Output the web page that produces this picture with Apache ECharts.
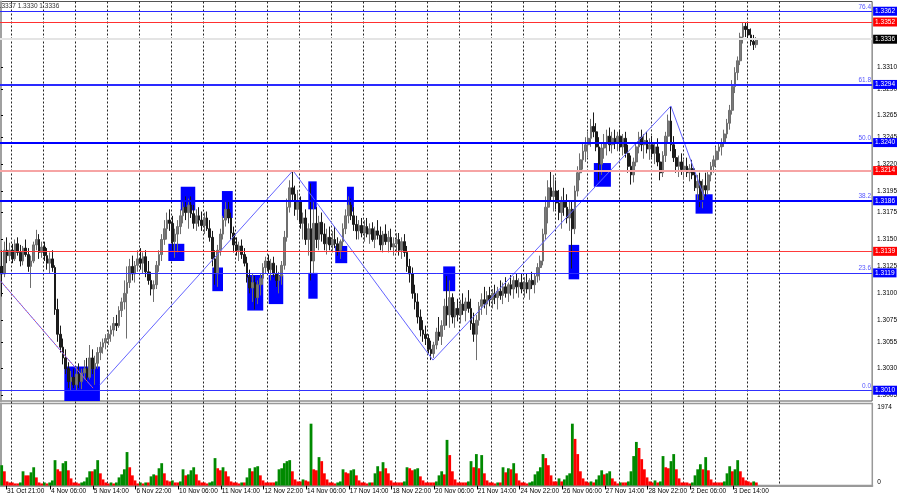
<!DOCTYPE html>
<html><head><meta charset="utf-8">
<script src="https://cdn.jsdelivr.net/npm/echarts@6/dist/echarts.min.js"></script>
<style>html,body{margin:0;padding:0;background:#fff}#c{width:900px;height:500px}</style>
</head><body><div id="c"></div>
<script>
// ---------- DATA (2-hour bars, [open, high, low, close]) ----------
const candles = [
// 31 Oct
[1.3125,1.3140,1.3097,1.3118],[1.3118,1.3148,1.3115,1.3140],[1.3140,1.3152,1.3128,1.3135],[1.3135,1.3147,1.3130,1.3140],
// 3 Nov
[1.3140,1.3146,1.3128,1.3132],[1.3132,1.3150,1.3130,1.3146],[1.3146,1.3152,1.3135,1.3138],[1.3138,1.3145,1.3125,1.3130],
[1.3130,1.3144,1.3126,1.3142],[1.3142,1.3150,1.3134,1.3136],[1.3136,1.3142,1.3120,1.3125],[1.3125,1.3135,1.3105,1.3130],
[1.3130,1.3148,1.3128,1.3145],[1.3145,1.3159,1.3140,1.3150],[1.3150,1.3155,1.3132,1.3138],[1.3138,1.3148,1.3133,1.3143],
// 4 Nov
[1.3143,1.3148,1.3130,1.3135],[1.3135,1.3142,1.3122,1.3128],[1.3128,1.3138,1.3118,1.3132],[1.3132,1.3140,1.3120,1.3124],
[1.3124,1.3126,1.3080,1.3085],[1.3085,1.3095,1.3055,1.3062],[1.3062,1.3070,1.3045,1.3050],[1.3050,1.3058,1.3034,1.3040],
[1.3040,1.3048,1.3025,1.3030],[1.3030,1.3036,1.3012,1.3018],[1.3018,1.3028,1.3010,1.3022],[1.3022,1.3030,1.3012,1.3015],
// 5 Nov
[1.3015,1.3032,1.3010,1.3025],[1.3025,1.3035,1.3012,1.3018],[1.3018,1.3030,1.3011,1.3026],[1.3026,1.3038,1.3020,1.3030],
[1.3030,1.3040,1.3018,1.3022],[1.3022,1.3052,1.3020,1.3040],[1.3040,1.3048,1.3025,1.3030],[1.3030,1.3042,1.3015,1.3035],
[1.3035,1.3050,1.3030,1.3045],[1.3045,1.3055,1.3038,1.3050],[1.3050,1.3058,1.3044,1.3054],[1.3054,1.3062,1.3048,1.3058],
// 6 Nov
[1.3058,1.3066,1.3052,1.3062],[1.3062,1.3070,1.3055,1.3066],[1.3066,1.3078,1.3060,1.3072],[1.3072,1.3080,1.3065,1.3070],
[1.3070,1.3088,1.3068,1.3084],[1.3084,1.3096,1.3078,1.3092],[1.3092,1.3112,1.3085,1.3100],[1.3100,1.3125,1.3058,1.3110],
[1.3110,1.3132,1.3105,1.3125],[1.3125,1.3135,1.3112,1.3118],[1.3118,1.3130,1.3110,1.3126],[1.3126,1.3140,1.3120,1.3132],
// 7 Nov
[1.3132,1.3142,1.3122,1.3128],[1.3128,1.3138,1.3118,1.3134],[1.3134,1.3140,1.3115,1.3120],[1.3120,1.3130,1.3108,1.3112],
[1.3112,1.3120,1.3098,1.3104],[1.3104,1.3112,1.3092,1.3108],[1.3108,1.3130,1.3104,1.3126],[1.3126,1.3140,1.3120,1.3136],
[1.3136,1.3155,1.3130,1.3150],[1.3150,1.3168,1.3145,1.3160],[1.3160,1.3175,1.3150,1.3168],[1.3168,1.3178,1.3158,1.3165],
// 10 Nov
[1.3165,1.3172,1.3140,1.3148],[1.3148,1.3160,1.3133,1.3155],[1.3155,1.3168,1.3138,1.3162],[1.3162,1.3178,1.3155,1.3172],
[1.3172,1.3186,1.3165,1.3180],[1.3180,1.3190,1.3168,1.3175],[1.3175,1.3188,1.3160,1.3182],[1.3182,1.3190,1.3170,1.3174],
[1.3174,1.3182,1.3160,1.3165],[1.3165,1.3178,1.3158,1.3172],[1.3172,1.3180,1.3162,1.3168],[1.3168,1.3176,1.3158,1.3163],
// 11 Nov
[1.3163,1.3175,1.3155,1.3170],[1.3170,1.3176,1.3158,1.3160],[1.3160,1.3168,1.3148,1.3152],[1.3152,1.3158,1.3125,1.3132],
[1.3132,1.3140,1.3108,1.3118],[1.3118,1.3145,1.3106,1.3140],[1.3140,1.3160,1.3135,1.3155],[1.3155,1.3172,1.3150,1.3168],
[1.3168,1.3186,1.3162,1.3178],[1.3178,1.3185,1.3165,1.3170],[1.3170,1.3175,1.3150,1.3156],[1.3156,1.3162,1.3138,1.3145],
// 12 Nov
[1.3145,1.3152,1.3135,1.3140],[1.3140,1.3148,1.3130,1.3144],[1.3144,1.3150,1.3132,1.3136],[1.3136,1.3142,1.3125,1.3128],
[1.3128,1.3134,1.3110,1.3115],[1.3115,1.3122,1.3100,1.3105],[1.3105,1.3118,1.3092,1.3110],[1.3110,1.3116,1.3085,1.3096],
[1.3096,1.3112,1.3090,1.3108],[1.3108,1.3118,1.3098,1.3114],[1.3114,1.3128,1.3108,1.3124],[1.3124,1.3134,1.3118,1.3130],
// 13 Nov
[1.3130,1.3136,1.3118,1.3122],[1.3122,1.3132,1.3112,1.3128],[1.3128,1.3134,1.3115,1.3118],[1.3118,1.3126,1.3106,1.3112],
[1.3112,1.3120,1.3100,1.3116],[1.3116,1.3130,1.3108,1.3126],[1.3126,1.3158,1.3122,1.3152],[1.3152,1.3188,1.3148,1.3180],
[1.3180,1.3205,1.3175,1.3198],[1.3198,1.3214,1.3185,1.3192],[1.3192,1.3200,1.3172,1.3178],[1.3178,1.3196,1.3168,1.3185],
// 14 Nov
[1.3185,1.3190,1.3160,1.3165],[1.3165,1.3175,1.3150,1.3170],[1.3170,1.3178,1.3145,1.3150],[1.3150,1.3165,1.3135,1.3160],
[1.3160,1.3202,1.3112,1.3130],[1.3130,1.3185,1.3118,1.3165],[1.3165,1.3180,1.3142,1.3150],[1.3150,1.3172,1.3140,1.3166],
[1.3166,1.3175,1.3148,1.3155],[1.3155,1.3165,1.3140,1.3146],[1.3146,1.3160,1.3136,1.3152],[1.3152,1.3162,1.3140,1.3145],
// 17 Nov
[1.3145,1.3158,1.3138,1.3150],[1.3150,1.3162,1.3142,1.3146],[1.3146,1.3152,1.3135,1.3140],[1.3140,1.3150,1.3132,1.3148],
[1.3148,1.3165,1.3144,1.3160],[1.3160,1.3178,1.3155,1.3172],[1.3172,1.3190,1.3165,1.3182],[1.3182,1.3188,1.3168,1.3172],
[1.3172,1.3180,1.3158,1.3164],[1.3164,1.3172,1.3150,1.3158],[1.3158,1.3168,1.3150,1.3163],[1.3163,1.3170,1.3152,1.3156],
// 18 Nov
[1.3156,1.3168,1.3148,1.3162],[1.3162,1.3170,1.3152,1.3155],[1.3155,1.3165,1.3146,1.3160],[1.3160,1.3166,1.3148,1.3150],
[1.3150,1.3162,1.3142,1.3158],[1.3158,1.3168,1.3150,1.3154],[1.3154,1.3162,1.3140,1.3145],[1.3145,1.3158,1.3138,1.3155],
[1.3155,1.3164,1.3145,1.3148],[1.3148,1.3158,1.3138,1.3152],[1.3152,1.3160,1.3140,1.3143],[1.3143,1.3152,1.3135,1.3146],
// 19 Nov
[1.3146,1.3156,1.3138,1.3150],[1.3150,1.3156,1.3135,1.3140],[1.3140,1.3152,1.3132,1.3148],[1.3148,1.3155,1.3134,1.3138],
[1.3138,1.3144,1.3120,1.3125],[1.3125,1.3132,1.3110,1.3118],[1.3118,1.3124,1.3095,1.3100],[1.3100,1.3108,1.3085,1.3092],
[1.3092,1.3100,1.3072,1.3078],[1.3078,1.3085,1.3060,1.3066],[1.3066,1.3075,1.3055,1.3062],[1.3062,1.3070,1.3052,1.3058],
// 20 Nov
[1.3058,1.3062,1.3044,1.3048],[1.3048,1.3056,1.3038,1.3044],[1.3044,1.3055,1.3040,1.3052],[1.3052,1.3068,1.3048,1.3064],
[1.3064,1.3078,1.3056,1.3060],[1.3060,1.3075,1.3052,1.3070],[1.3070,1.3095,1.3066,1.3088],[1.3088,1.3116,1.3070,1.3080],
[1.3080,1.3112,1.3068,1.3096],[1.3096,1.3100,1.3072,1.3078],[1.3078,1.3092,1.3068,1.3086],[1.3086,1.3095,1.3074,1.3080],
// 21 Nov
[1.3080,1.3094,1.3072,1.3090],[1.3090,1.3100,1.3080,1.3084],[1.3084,1.3096,1.3074,1.3092],[1.3092,1.3103,1.3082,1.3086],
[1.3086,1.3095,1.3066,1.3072],[1.3072,1.3082,1.3055,1.3062],[1.3062,1.3080,1.3038,1.3075],[1.3075,1.3092,1.3070,1.3088],
[1.3088,1.3100,1.3080,1.3094],[1.3094,1.3106,1.3086,1.3090],[1.3090,1.3102,1.3080,1.3098],[1.3098,1.3106,1.3088,1.3094],
// 24 Nov
[1.3094,1.3104,1.3086,1.3100],[1.3100,1.3108,1.3090,1.3096],[1.3096,1.3106,1.3085,1.3102],[1.3102,1.3112,1.3094,1.3098],
[1.3098,1.3110,1.3090,1.3106],[1.3106,1.3115,1.3096,1.3100],[1.3100,1.3110,1.3092,1.3108],[1.3108,1.3117,1.3098,1.3104],
[1.3104,1.3116,1.3095,1.3112],[1.3112,1.3118,1.3100,1.3106],[1.3106,1.3114,1.3096,1.3110],[1.3110,1.3118,1.3100,1.3104],
// 25 Nov
[1.3104,1.3115,1.3096,1.3110],[1.3110,1.3118,1.3100,1.3104],[1.3104,1.3114,1.3094,1.3112],[1.3112,1.3120,1.3104,1.3108],
[1.3108,1.3118,1.3100,1.3116],[1.3116,1.3128,1.3110,1.3124],[1.3124,1.3135,1.3112,1.3130],[1.3130,1.3160,1.3126,1.3155],
[1.3155,1.3190,1.3150,1.3180],[1.3180,1.3205,1.3165,1.3198],[1.3198,1.3214,1.3185,1.3190],[1.3190,1.3210,1.3176,1.3195],
// 26 Nov
[1.3195,1.3205,1.3178,1.3184],[1.3184,1.3196,1.3168,1.3175],[1.3175,1.3190,1.3160,1.3185],[1.3185,1.3198,1.3172,1.3180],
[1.3180,1.3192,1.3165,1.3170],[1.3170,1.3185,1.3158,1.3178],[1.3178,1.3185,1.3123,1.3160],[1.3160,1.3200,1.3155,1.3195],
[1.3195,1.3218,1.3190,1.3212],[1.3212,1.3230,1.3205,1.3224],[1.3224,1.3240,1.3215,1.3232],[1.3232,1.3245,1.3222,1.3238],
// 27 Nov
[1.3238,1.3250,1.3226,1.3244],[1.3244,1.3262,1.3236,1.3255],[1.3255,1.3268,1.3245,1.3250],[1.3250,1.3258,1.3232,1.3236],
[1.3236,1.3245,1.3205,1.3220],[1.3220,1.3240,1.3210,1.3235],[1.3235,1.3248,1.3225,1.3240],[1.3240,1.3252,1.3228,1.3246],
[1.3246,1.3254,1.3232,1.3238],[1.3238,1.3250,1.3230,1.3244],[1.3244,1.3252,1.3234,1.3240],[1.3240,1.3250,1.3232,1.3246],
// 28 Nov
[1.3246,1.3252,1.3232,1.3236],[1.3236,1.3248,1.3228,1.3244],[1.3244,1.3250,1.3226,1.3230],[1.3230,1.3238,1.3212,1.3218],
[1.3218,1.3228,1.3201,1.3210],[1.3210,1.3226,1.3203,1.3222],[1.3222,1.3240,1.3218,1.3236],[1.3236,1.3250,1.3230,1.3245],
[1.3245,1.3252,1.3232,1.3238],[1.3238,1.3248,1.3225,1.3242],[1.3242,1.3250,1.3230,1.3234],[1.3234,1.3244,1.3224,1.3238],
// 1 Dec
[1.3238,1.3246,1.3226,1.3230],[1.3230,1.3240,1.3220,1.3236],[1.3236,1.3244,1.3218,1.3222],[1.3222,1.3230,1.3205,1.3212],
[1.3212,1.3232,1.3208,1.3228],[1.3228,1.3250,1.3222,1.3246],[1.3246,1.3266,1.3240,1.3260],[1.3260,1.3273,1.3232,1.3238],
[1.3238,1.3246,1.3222,1.3226],[1.3226,1.3234,1.3212,1.3218],[1.3218,1.3228,1.3208,1.3222],[1.3222,1.3230,1.3210,1.3215],
// 2 Dec
[1.3215,1.3224,1.3206,1.3218],[1.3218,1.3226,1.3208,1.3212],[1.3212,1.3220,1.3204,1.3216],[1.3216,1.3224,1.3206,1.3210],
[1.3210,1.3216,1.3195,1.3198],[1.3198,1.3210,1.3186,1.3204],[1.3204,1.3212,1.3180,1.3186],[1.3186,1.3206,1.3179,1.3200],
[1.3200,1.3212,1.3190,1.3196],[1.3196,1.3214,1.3192,1.3210],[1.3210,1.3222,1.3204,1.3218],[1.3218,1.3228,1.3212,1.3224],
// 3 Dec
[1.3224,1.3236,1.3218,1.3232],[1.3232,1.3240,1.3224,1.3236],[1.3236,1.3244,1.3228,1.3240],[1.3240,1.3252,1.3236,1.3248],
[1.3248,1.3262,1.3244,1.3258],[1.3258,1.3275,1.3252,1.3270],[1.3270,1.3298,1.3266,1.3292],[1.3292,1.3310,1.3286,1.3305],
[1.3305,1.3320,1.3298,1.3316],[1.3316,1.3342,1.3312,1.3338],[1.3338,1.3352,1.3332,1.3348],[1.3348,1.3352,1.3338,1.3345],
// 4 Dec
[1.3345,1.3352,1.3336,1.3340],[1.3340,1.3346,1.3330,1.3334],[1.3334,1.3340,1.3326,1.3331],[1.3331,1.3338,1.3328,1.3336]
];

const volume = [
488,342,98,73,
73,49,49,73,342,244,244,317,439,195,73,49,
73,49,73,122,610,390,342,537,586,366,171,73,
73,49,73,98,195,342,342,390,610,293,146,73,
49,73,49,73,195,268,390,805,439,244,122,49,
73,49,73,73,220,268,244,415,537,293,122,98,
122,73,73,98,390,244,268,366,439,268,122,73,
73,49,73,98,659,415,366,439,342,220,98,73,
73,49,73,73,195,415,342,439,464,244,122,73,
73,73,73,98,390,415,537,586,610,342,146,98,
98,146,122,98,1488,390,366,683,586,293,146,73,
73,49,73,98,390,317,293,366,390,244,122,73,
73,49,73,73,293,464,342,561,415,293,122,73,
73,73,73,98,439,415,366,390,415,220,122,73,
73,73,73,98,244,342,268,1098,732,342,146,73,
73,73,73,98,586,439,756,415,732,293,122,73,
73,49,73,73,439,317,415,390,537,293,122,73,
73,49,73,98,268,342,439,756,659,488,244,98,
98,171,98,146,244,293,1488,1122,756,342,171,98,
73,98,73,146,244,366,268,293,342,171,98,49,
73,73,73,98,342,708,1049,903,634,390,195,98,
73,122,73,98,708,439,415,586,756,390,171,73,
73,73,49,73,244,390,512,390,683,366,146,73,
73,73,73,98,293,464,342,390,610,342,195,122,
98,73,98,73
];

// time tick labels (hour index from 31 Oct 16:00, weekends skipped)
const xLabelHours = [5,38,70,102,134,166,198,230,262,294,326,358,390,422,454,486,518,550];
const xLabelText = ['31 Oct 21:00','4 Nov 06:00','5 Nov 14:00','6 Nov 22:00','10 Nov 06:00','11 Nov 14:00',
  '12 Nov 22:00','14 Nov 06:00','17 Nov 14:00','18 Nov 22:00','20 Nov 06:00','21 Nov 14:00','24 Nov 22:00',
  '26 Nov 06:00','27 Nov 14:00','28 Nov 22:00','2 Dec 06:00','3 Dec 14:00'];
const priceTicks = [1.3310,1.3290,1.3265,1.3245,1.3220,1.3195,1.3175,1.3150,1.3125,1.3100,1.3075,1.3055,1.3030,1.3005];
const volumeTicks = [0, 1974];

// horizontal levels and their labels
const levels = [1.3362,1.3352,1.3336,1.3294,1.3240,1.3214,1.3186,1.3139,1.3119,1.3010];
const fibPrices = [1.3362,1.3294,1.3240,1.3186,1.3119,1.3010];
const fibText = ['76.4','61.8','50.0','38.2','23.6','0.0'];

// zones: [hourFrom, hourTo, priceTop, priceBottom]
const zones = [
[47.5,74.2,1.3032,1.3000],[125.5,137.5,1.3146,1.3130],[158.5,166.5,1.3124,1.3102],
[184.7,196.7,1.3117,1.3084],[200.8,211.7,1.3117,1.3090],[134.8,145.7,1.3199,1.3177],
[165.7,173.8,1.3195,1.3170],[230.5,236.8,1.3204,1.3178],[230.5,237.5,1.3119,1.3095],
[259.5,264.7,1.3199,1.3176],[250.7,259.7,1.3144,1.3128],[331.7,340.7,1.3125,1.3102],
[425.8,433.7,1.3145,1.3113],[444.7,457.5,1.3221,1.3199],[521.0,533.8,1.3192,1.3174]
];
// zigzag / trend lines: [hour, price]
const zigzagA = [[-0.77,1.3112],[69.0,1.3012]];
const zigzagB = [[74.2,1.3015],[219.0,1.3214],[324.0,1.3038],[502.5,1.3274],[527.3,1.3190]];
const quoteText = '1.3337 1.3330 1.3336';

// ---------- LAYOUT / STYLE ----------
const HOURS_PER_BAR = 2;
const PX_PER_H = 4/3;
const T_MIN = -0.77;           // hour at the left edge of the plot
const GRID_W = 872.3;
const T_MAX = T_MIN + GRID_W / PX_PER_H;
const GRIDLINE_T0 = 8;         // first day separator (3 Nov 00:00)
const GRIDLINE_T1 = 584;       // last day separator drawn
const FONT = 'Liberation Sans';
const FS = 6.5;

const levelLine = ['#2a2aff','#ff3030','#e4e4e4','#2a2aff','#0000ff','#f6a4a4','#0000ff','#ff3a3a','#3030ff','#3030ff'];
const levelWidth = [1,1,2,2,2,2,2,1,1,1];
const levelBox = ['#0000ff','#ff0000','#000000','#0000ff','#0000ff','#ff0000','#0000ff','#ff0000','#0000ff','#0000ff'];

const labelOffset = -1.2;
const xLabelPos = xLabelHours.map(h => h + labelOffset);

const candleData = candles.map((c, k) => [k * HOURS_PER_BAR + 0.5, c[0], c[3], c[2], c[1]]);
const volData = volume.map((v, k) => ({
  value: [k * HOURS_PER_BAR + 0.5, v],
  itemStyle: { color: (k === 0 || v > volume[k - 1]) ? '#008a00' : '#ff0000' }
}));

const markLineData = [];
levels.forEach((p, i) => {
  markLineData.push({
    yAxis: p,
    lineStyle: { color: levelLine[i], width: levelWidth[i], type: 'solid' },
    label: { show: true, position: 'end', formatter: p.toFixed(4), backgroundColor: levelBox[i],
      color: '#fff', fontSize: FS, fontFamily: FONT, padding: [1, 2, 0, 2], distance: 1, lineHeight: 8 }
  });
});
fibPrices.forEach((p, i) => {
  markLineData.push({
    yAxis: p,
    lineStyle: { color: 'rgba(0,0,0,0)', width: 0 },
    label: { show: true, position: 'insideEndTop', formatter: fibText[i], color: '#5555ff',
      fontSize: FS, fontFamily: FONT, distance: 1 }
  });
});

const chart = echarts.init(document.getElementById('c'), null, { renderer: 'canvas' });
chart.setOption({
  animation: false,
  backgroundColor: '#ffffff',
  textStyle: { fontFamily: FONT },
  graphic: [{ type: 'text', left: -4, top: 3, z: 100,
    style: { text: quoteText, font: FS + 'px ' + FONT, fill: '#333' } }],
  grid: [
    { left: 0, width: GRID_W, top: 1.5, height: 399.5, show: true, borderColor: '#555', borderWidth: 1, containLabel: false },
    { left: 0, width: GRID_W, top: 403.5, height: 82, show: true, borderColor: '#999', borderWidth: 1.5, containLabel: false },
    { left: (GRIDLINE_T0 - T_MIN) * PX_PER_H, width: (GRIDLINE_T1 - GRIDLINE_T0) * PX_PER_H, top: 1.5, height: 484, containLabel: false }
  ],
  xAxis: [
    { type: 'value', gridIndex: 0, min: T_MIN, max: T_MAX, show: false, splitLine: { show: false } },
    { type: 'value', gridIndex: 1, min: T_MIN, max: T_MAX, splitLine: { show: false },
      axisLine: { show: true, lineStyle: { color: '#999', width: 2 } },
      axisTick: { show: true, customValues: xLabelPos, length: 4, lineStyle: { color: '#000', width: 1 } },
      axisLabel: { show: true, customValues: xLabelPos, align: 'left', margin: 2, padding: [0, 0, 0, 1],
        fontSize: FS, color: '#000',
        formatter: v => { let i = xLabelPos.findIndex(p => Math.abs(p - v) < 0.01); return i >= 0 ? xLabelText[i] : ''; } } },
    { type: 'value', gridIndex: 2, min: GRIDLINE_T0, max: GRIDLINE_T1, interval: 24,
      axisLine: { show: false }, axisTick: { show: false }, axisLabel: { show: false },
      splitLine: { show: true, lineStyle: { color: '#222', width: 1, type: [2, 2] } } }
  ],
  yAxis: [
    { type: 'value', gridIndex: 0, position: 'right', min: 1.3000, max: 1.3000 + 399.5 / 10767,
      splitLine: { show: false },
      axisLine: { show: true, lineStyle: { color: '#a0a0a0', width: 2 } },
      axisTick: { show: true, customValues: priceTicks, length: 2, lineStyle: { color: '#000' } },
      axisLabel: { show: true, customValues: priceTicks, margin: 5, fontSize: FS, color: '#000',
        formatter: v => v.toFixed(4) } },
    { type: 'value', gridIndex: 1, position: 'right', min: 0, max: 1974, interval: 1974,
      splitLine: { show: false },
      axisLine: { show: true, lineStyle: { color: '#a0a0a0', width: 2 } },
      axisTick: { show: false },
      axisLabel: { show: true, customValues: volumeTicks, margin: 5, fontSize: FS, color: '#000',
        formatter: v => String(Math.round(v)),
        verticalAlignMinLabel: 'bottom', verticalAlignMaxLabel: 'top' } },
    { type: 'value', gridIndex: 2, show: false, min: 0, max: 1 }
  ],
  series: [
    { type: 'candlestick', xAxisIndex: 0, yAxisIndex: 0, data: candleData, barWidth: 2.2, z: 3,
      itemStyle: { color: '#7a7a7a', color0: '#1e1e1e', borderColor: '#6e6e6e', borderColor0: '#1a1a1a', borderWidth: 1 } },
    { type: 'line', xAxisIndex: 0, yAxisIndex: 0, data: zigzagB, symbol: 'none', silent: true, z: 4,
      lineStyle: { color: '#6464ff', width: 1 },
      markArea: { silent: true, z: 1, itemStyle: { color: '#0000ff', opacity: 1 },
        data: zones.map(z => [{ coord: [z[0], z[2]] }, { coord: [z[1], z[3]] }]) },
      markLine: { silent: true, precision: 4, symbol: ['none', 'none'], z: 5, animation: false, data: markLineData } },
    { type: 'line', xAxisIndex: 0, yAxisIndex: 0, data: zigzagA, symbol: 'none', silent: true, z: 4,
      lineStyle: { color: '#6464ff', width: 1 } },
    { type: 'line', xAxisIndex: 0, yAxisIndex: 0, data: zigzagA, symbol: 'none', silent: true, z: 4,
      lineStyle: { color: '#ff5050', width: 1, type: [1, 2] } },
    { type: 'bar', xAxisIndex: 1, yAxisIndex: 1, data: volData, barWidth: 2.8, silent: true }
  ]
});
</script></body></html>
